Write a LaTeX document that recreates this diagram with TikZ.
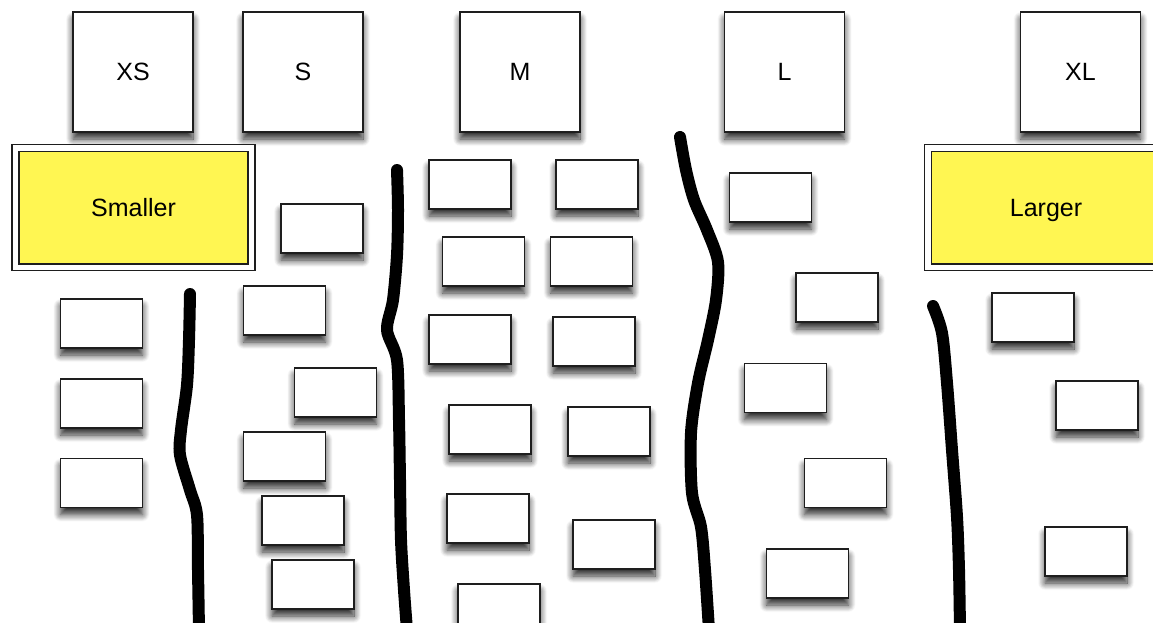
\documentclass[tikz,border=0pt]{standalone}
\usepackage{fontspec}
\setmainfont{Liberation Sans}
\usetikzlibrary{shadows.blur}
\definecolor{stickyyellow}{HTML}{FFF652}
\definecolor{edgegray}{HTML}{1E1E1E}
\tikzset{
  x=1pt, y=-1pt,
  card/.style={draw=edgegray, line width=1.6pt, fill=white, inner sep=0pt,
    minimum width=82pt, minimum height=49pt,
    blur shadow={shadow xshift=0pt, shadow yshift=-7pt, shadow blur steps=10, shadow opacity=85, shadow blur radius=7pt}},
  header/.style={card, minimum width=120pt, minimum height=120pt,
    font=\fontsize{25}{30}\selectfont, text height=17.9pt, text depth=0pt},
  group/.style={draw=edgegray, line width=1.3pt, double=white, double distance=5.5pt,
    fill=stickyyellow, inner sep=0pt, minimum width=236pt, minimum height=119.5pt,
    font=\fontsize{25}{30}\selectfont, text height=17.9pt, text depth=0pt},
  divider/.style={line width=12pt, line cap=round, line join=round, black}
}
\begin{document}
\begin{tikzpicture}
\useasboundingbox (0,0) rectangle (1153,622);
\clip (0,0) rectangle (1153,622);
% headers
\node[header] (xs) at (133,72) {XS};
\node[header] (s) at (303,72) {S};
\node[header] (m) at (520,72) {M};
\node[header] (l) at (784.5,72) {L};
\node[header] (xl) at (1080.5,72) {XL};
% group labels
\node[group] (smaller) at (133.5,207.5) {Smaller};
\node[group] (larger) at (1046,207.5) {Larger};
% XS cards
\node[card] (c2) at (101.5,323.5) {};
\node[card] (c3) at (101.5,403.5) {};
\node[card] (c4) at (101.5,483) {};
% S cards
\node[card] (c1) at (322,228.5) {};
\node[card] (c5) at (284.5,310.5) {};
\node[card] (c6) at (335.5,392.5) {};
\node[card] (c7) at (284.5,456.5) {};
\node[card] (c8) at (303,520.5) {};
\node[card] (c9) at (313,584.5) {};
% M cards
\node[card] (c10) at (470,184.5) {};
\node[card] (c11) at (597,184.5) {};
\node[card] (c12) at (483.5,261.5) {};
\node[card] (c13) at (591.5,261.5) {};
\node[card] (c14) at (470,339.5) {};
\node[card] (c15) at (594,341.5) {};
\node[card] (c16) at (490,429.5) {};
\node[card] (c17) at (609,431.5) {};
\node[card] (c18) at (488,518.5) {};
\node[card] (c19) at (614,544.5) {};
\node[card] (c20) at (499,608.5) {};
% L cards
\node[card] (c21) at (770.5,197.5) {};
\node[card] (c22) at (837,297.5) {};
\node[card] (c23) at (785.5,388) {};
\node[card] (c24) at (845.5,483) {};
\node[card] (c25) at (807.5,573.5) {};
% XL cards
\node[card] (c26) at (1033,317.5) {};
\node[card] (c27) at (1097,405.5) {};
\node[card] (c28) at (1086,551.5) {};
% hand-drawn dividers
\draw[divider] plot[smooth, tension=0.5] coordinates {(190,294) (189,340) (187,385) (181,430) (180,455) (190,490) (197,515) (198,570) (199,630)};
\draw[divider] plot[smooth, tension=0.5] coordinates {(397,170) (398,210) (397,255) (393,300) (387,330) (397,360) (399,420) (400,480) (401,540) (404,590) (407,630)};
\draw[divider] plot[smooth, tension=0.5] coordinates {(680,137) (686,170) (694,200) (707,230) (718,262) (716,300) (708,340) (698,383) (691,433) (692,493) (701,527) (705,570) (709,630)};
\draw[divider] plot[smooth, tension=0.5] coordinates {(933,306) (942,333) (947,383) (952,450) (957,517) (959,570) (960,630)};
\end{tikzpicture}
\end{document}
